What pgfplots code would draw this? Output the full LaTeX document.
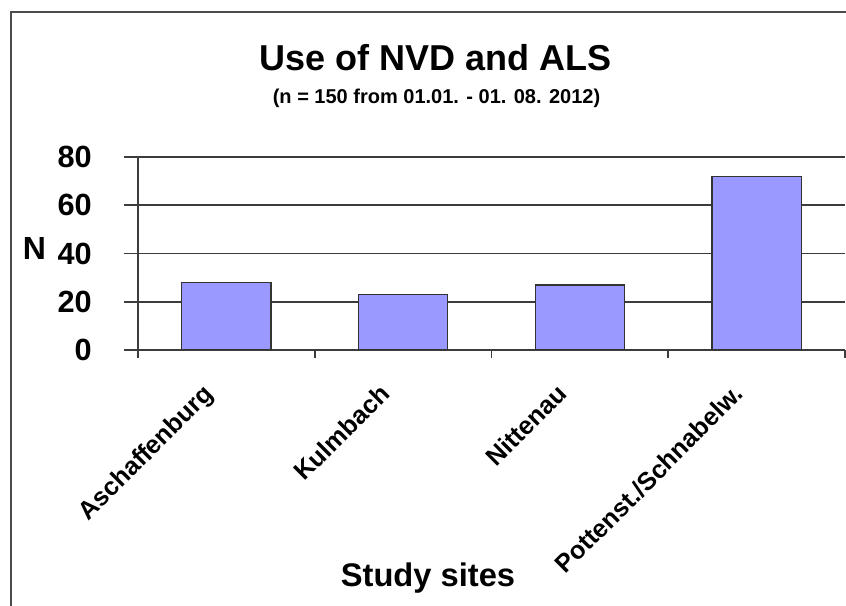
\documentclass[border=0pt]{standalone}
\usepackage{fontspec}
\setmainfont{Liberation Sans}
\usepackage{pgfplots}
\pgfplotsset{compat=1.18}
\definecolor{barfill}{HTML}{9999FF}
\definecolor{gridc}{HTML}{3C3C3C}
\begin{document}
\begin{tikzpicture}
\useasboundingbox (0,0) rectangle (634.5pt,454.5pt);
\fill[white] (0,0) rectangle (634.5pt,454.5pt);
\draw[line width=1.5pt, color=gray!60!black] (8.25pt,-2pt) -- (8.25pt,445.5pt) -- (640pt,445.5pt);
\node[anchor=base, inner sep=0pt, font=\fontsize{27}{30}\selectfont\bfseries] at (327pt,401.25pt) {Use of NVD and ALS};
\node[anchor=base, inner sep=0pt, font=\fontsize{15}{18}\selectfont\bfseries] at (327.4pt,376.5pt) {(n = 150 from 01.01. - 01. 08. 2012)};
\begin{axis}[
  at={(103.5pt,192pt)}, anchor=south west,
  scale only axis, width=530.25pt, height=144.75pt,
  xmin=-0.5, xmax=3.5, ymin=0, ymax=80,
  ytick={0,20,40,60,80},
  xtick={0,1,2,3},
  xticklabels={Aschaffenburg,Kulmbach,Nittenau,Pottenst./Schnabelw.},
  minor xtick={-0.5,0.5,1.5,2.5,3.5},
  axis x line*=bottom, axis y line*=left,
  axis line style={line width=1.2pt, color=gridc, -},
  ymajorgrids, major grid style={line width=1.2pt, color=gridc},
  tick align=outside,
  major tick length=10.5pt,
  minor tick length=6pt,
  ytick style={line width=1.2pt, color=gridc},
  major x tick style={draw=none},
  minor x tick style={line width=1.2pt, color=gridc},
  /pgf/number format/assume math mode=true,
  yticklabel style={anchor=east, inner sep=0pt, xshift=-24pt, font=\fontsize{23}{25}\selectfont\bfseries},
  xticklabel style={xshift=-18.5pt, yshift=-13.5pt, rotate=45, anchor=north east, inner sep=0pt, font=\fontsize{19}{21}\selectfont\bfseries},
  ylabel={N},
  every axis y label/.style={at={(axis description cs:0,0.5)}, anchor=center, xshift=-77.6pt, yshift=3.75pt, font=\fontsize{24}{26}\selectfont\bfseries},
  xlabel={Study sites},
  every axis x label/.style={at={(axis description cs:0,0)}, anchor=base, xshift=217.5pt, yshift=-177.75pt, font=\fontsize{24.5}{27}\selectfont\bfseries},
]
\addplot[ybar, bar width=0.505, fill=barfill, draw=black!80, line width=1pt] coordinates {(0,28) (1,23) (2,27) (3,72)};
\end{axis}
\end{tikzpicture}
\end{document}
